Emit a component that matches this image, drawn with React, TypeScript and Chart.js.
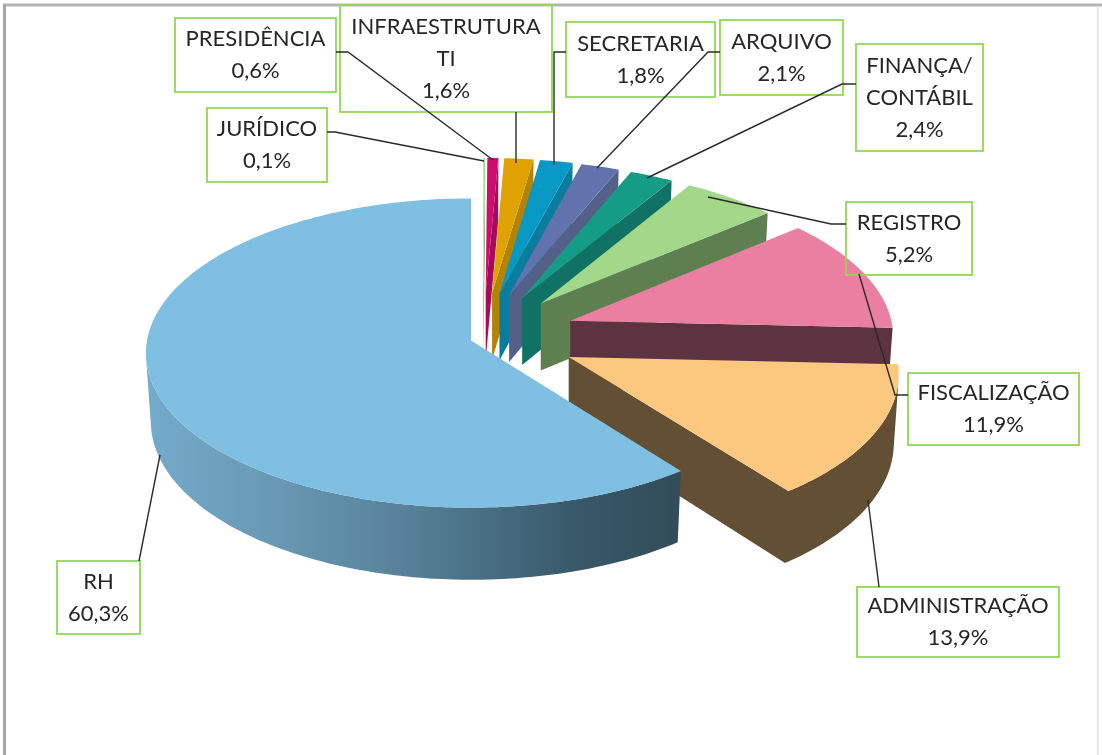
import React, { useEffect, useRef } from "react";
import { Chart, registerables } from "chart.js";

Chart.register(...registerables);

const categories = ["JURÍDICO", "PRESIDÊNCIA", "INFRAESTRUTURA TI", "SECRETARIA", "ARQUIVO", "FINANÇA/ CONTÁBIL", "REGISTRO", "FISCALIZAÇÃO", "ADMINISTRAÇÃO", "RH"];
const values = [0.1, 0.6, 1.6, 1.8, 2.1, 2.4, 5.2, 11.9, 13.9, 60.3];
const valueLabels = ["0,1%", "0,6%", "1,6%", "1,8%", "2,1%", "2,4%", "5,2%", "11,9%", "13,9%", "60,3%"];
const nameLines = [["JURÍDICO"], ["PRESIDÊNCIA"], ["INFRAESTRUTURA", "TI"], ["SECRETARIA"], ["ARQUIVO"], ["FINANÇA/", "CONTÁBIL"], ["REGISTRO"], ["FISCALIZAÇÃO"], ["ADMINISTRAÇÃO"], ["RH"]];
const faceColors = ["#a6d98c", "#cb0d6e", "#dfa200", "#0898c4", "#6272ad", "#159c87", "#a3d789", "#ea7fa2", "#fcc77f", "#7fbfe2"];
const wallColors = ["#7fa86a", "#a70a59", "#b38306", "#0a7c9e", "#556089", "#0f7264", "#5e8050", "#5d3241", "#634f33", "#527a90"];
const explode = [110, 110, 110, 110, 110, 110, 110, 110, 110, 0];
const nudgeX = [12, 12, 11, 7, 4, 3, 0, -4, -1, 0];
const nudgeY = [3, 3, 3, 3, 3, 3, 2, -3, -8, 0];
const paintOrder = [0, 1, 2, 3, 4, 5, 6, 7, 8, 9];

const boxes = [
  [207, 108, 327, 182], [175, 18, 336, 92], [340, 5, 552, 112], [566, 22, 715, 97], [720, 20, 843, 95],
  [856, 44, 983, 151], [846, 202, 972, 275], [908, 373, 1079, 445], [857, 587, 1059, 657], [57, 561, 140, 634],
];
const leaders = [
  [[327, 132], [335, 132], [484, 161]],
  [[336, 52], [348, 52], [493, 160]],
  [[516, 112], [516, 163]],
  [[566, 52], [554, 52], [554, 165]],
  [[720, 52], [708, 52], [597, 168]],
  [[856, 84], [842, 84], [647, 178]],
  [[846, 224], [831, 224], [708, 197]],
  [[908, 395], [895, 395], [859, 274]],
  [[879, 587], [868, 500]],
  [[139, 561], [160, 455]],
];

const S = 0.474, P = 0.00025, TAPER = 0.985, DEPTH = 68;

function project(cx: number, cy: number, X: number, Y: number, bottom: boolean, ax = 0) {
  const k = 1 / (1 - Y * P);
  let x = X * k;
  let y = Y * S * k;
  if (bottom) {
    x = ax + (x - ax) * TAPER;
    y += DEPTH * Math.pow(k, 0.7);
  }
  return [cx + x, cy + y];
}

const pie3d = {
  id: "pie3d",
  beforeDatasetDraw(chart: any, args: any) {
    const ctx = chart.ctx;
    for (const i of paintOrder) {
      const el = args.meta.data[i];
      const mid = (el.startAngle + el.endAngle) / 2;
      const off = el.options.offset || 0;
      const ox = Math.cos(mid) * off, oy = Math.sin(mid) * off;
      const cx = el.x + nudgeX[i], cy = el.y + nudgeY[i];
      const ax = project(0, 0, ox, oy, false)[0];
      const steps = Math.max(2, Math.ceil((el.endAngle - el.startAngle) / 0.02));
      const poly: number[][] = [[ox, oy]];
      for (let s = 0; s <= steps; s++) {
        const a = el.startAngle + ((el.endAngle - el.startAngle) * s) / steps;
        poly.push([ox + Math.cos(a) * el.outerRadius, oy + Math.sin(a) * el.outerRadius]);
      }
      let wallFill: any = wallColors[i];
      if (i === values.length - 1) {
        const g = ctx.createLinearGradient(150, 0, 680, 0);
        g.addColorStop(0, "#74abca");
        g.addColorStop(0.25, "#6797b2");
        g.addColorStop(0.5, "#557f96");
        g.addColorStop(0.8, "#38596a");
        g.addColorStop(1, "#324c59");
        wallFill = g;
      }
      const n = poly.length;
      ctx.beginPath();
      for (let e = 0; e < n; e++) {
        const p = poly[e], q = poly[(e + 1) % n];
        const quad = [
          project(cx, cy, p[0], p[1], false),
          project(cx, cy, q[0], q[1], false),
          project(cx, cy, q[0], q[1], true, ax),
          project(cx, cy, p[0], p[1], true, ax),
        ];
        let area = 0;
        for (let j = 0; j < 4; j++) {
          const a = quad[j], b = quad[(j + 1) % 4];
          area += a[0] * b[1] - b[0] * a[1];
        }
        if (area >= 0) continue;
        quad.forEach((pt, j) => (j ? ctx.lineTo(pt[0], pt[1]) : ctx.moveTo(pt[0], pt[1])));
        ctx.closePath();
      }
      ctx.fillStyle = wallFill;
      ctx.fill();
      ctx.beginPath();
      poly.forEach((pt, j) => {
        const v = project(cx, cy, pt[0], pt[1], false);
        if (j) ctx.lineTo(v[0], v[1]);
        else ctx.moveTo(v[0], v[1]);
      });
      ctx.closePath();
      ctx.fillStyle = el.options.backgroundColor;
      ctx.fill();
    }
    return false;
  },
  afterDraw(chart: any) {
    const ctx = chart.ctx;
    ctx.save();
    ctx.strokeStyle = "#b4b4b4";
    ctx.lineWidth = 3;
    ctx.beginPath();
    ctx.moveTo(3, 5);
    ctx.lineTo(1102, 5);
    ctx.stroke();
    ctx.strokeStyle = "#a6a6a6";
    ctx.beginPath();
    ctx.moveTo(4.5, 4);
    ctx.lineTo(4.5, 755);
    ctx.stroke();
    ctx.strokeStyle = "#e6e6e6";
    ctx.lineWidth = 2;
    ctx.beginPath();
    ctx.moveTo(1098, 6);
    ctx.lineTo(1098, 755);
    ctx.stroke();

    ctx.font = "22px Lato";
    ctx.textAlign = "center";
    ctx.textBaseline = "middle";
    boxes.forEach((b, i) => {
      ctx.strokeStyle = "#92d855";
      ctx.lineWidth = 1.8;
      ctx.strokeRect(b[0], b[1], b[2] - b[0], b[3] - b[1]);
      const lines = [...nameLines[i], valueLabels[i]];
      const cx = (b[0] + b[2]) / 2, cy = (b[1] + b[3]) / 2;
      ctx.fillStyle = "#262626";
      lines.forEach((t, j) => ctx.fillText(t, cx, cy + (j - (lines.length - 1) / 2) * 32));
    });
    ctx.strokeStyle = "#2a2a2a";
    ctx.lineWidth = 1.4;
    leaders.forEach((l) => {
      ctx.beginPath();
      l.forEach((p, j) => (j ? ctx.lineTo(p[0], p[1]) : ctx.moveTo(p[0], p[1])));
      ctx.stroke();
    });
    ctx.restore();
  },
};

export default function App() {
  const ref = useRef<HTMLCanvasElement>(null);
  useEffect(() => {
    const chart = new Chart(ref.current!, {
      type: "pie",
      data: {
        labels: categories,
        datasets: [{ data: values, backgroundColor: faceColors, offset: explode, borderWidth: 0 }],
      },
      options: {
        responsive: false,
        animation: false,
        events: [],
        radius: 324,
        layout: { padding: { right: 160, bottom: 74 } },
        plugins: { legend: { display: false }, tooltip: { enabled: false } },
      },
      plugins: [pie3d],
    } as any);
    return () => chart.destroy();
  }, []);
  return (
    <canvas
      ref={ref}
      width={1102}
      height={755}
      style={{ position: "absolute", left: 0, top: 0, width: 1102, height: 755, display: "block" }}
    />
  );
}
